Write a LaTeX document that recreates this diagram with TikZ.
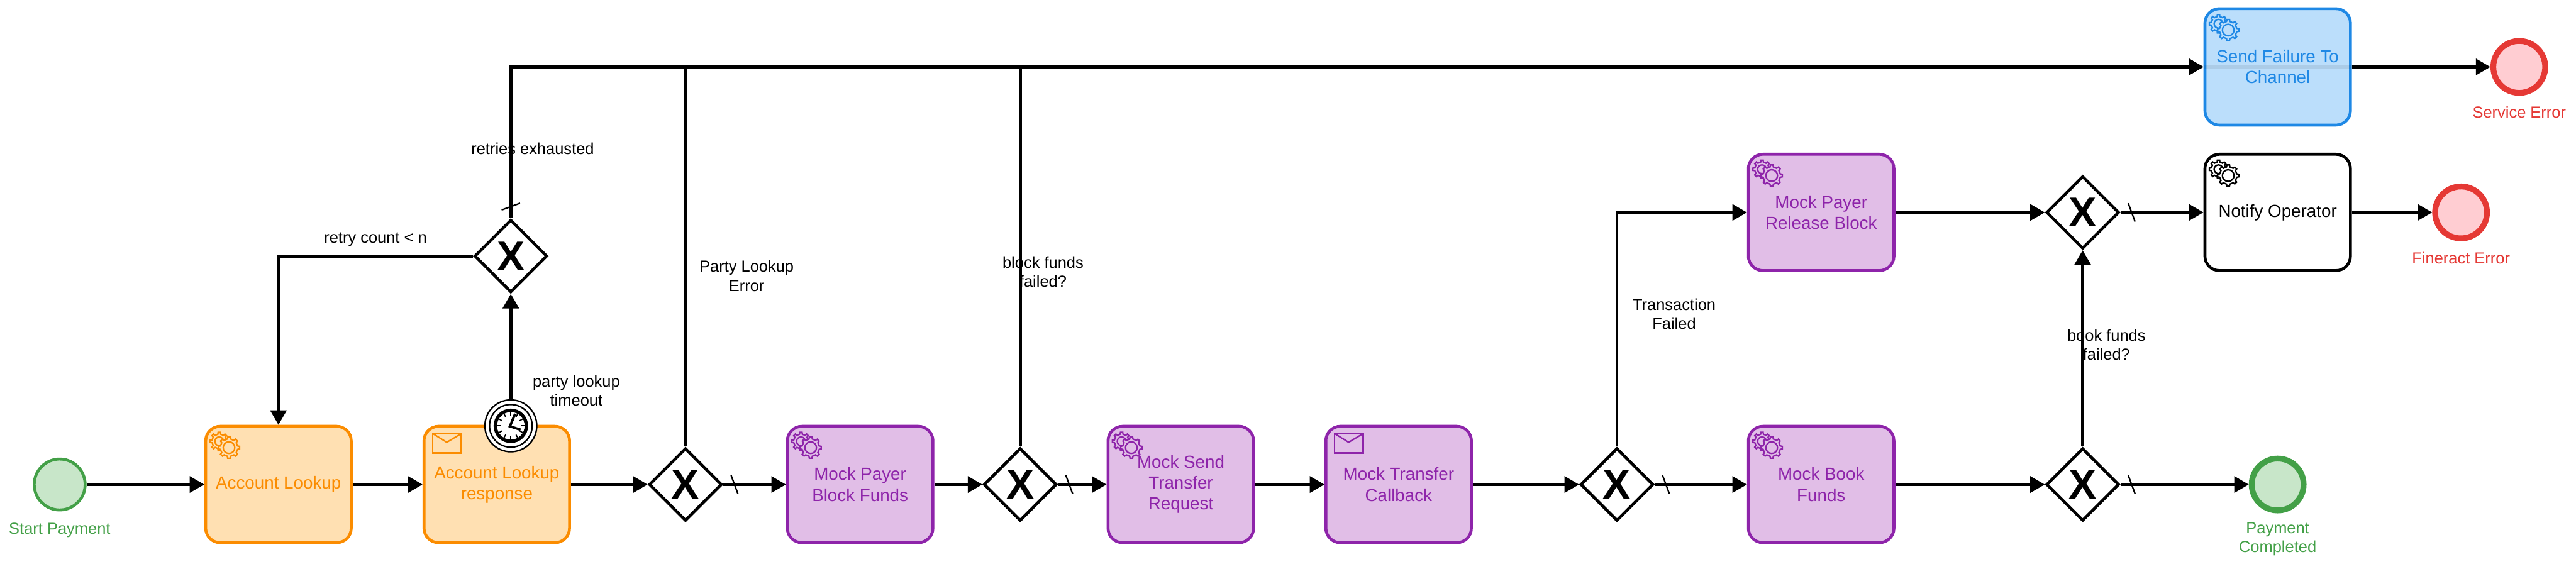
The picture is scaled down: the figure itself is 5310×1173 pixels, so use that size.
\documentclass[tikz,border=0pt]{standalone}
\usepackage{fontspec}
\setmainfont{Liberation Sans}
\usetikzlibrary{arrows.meta,shapes.geometric}
\definecolor{gS}{HTML}{43A047}\definecolor{gF}{HTML}{C8E6C9}
\definecolor{rS}{HTML}{E53935}\definecolor{rF}{HTML}{FFCDD2}
\definecolor{oS}{HTML}{FB8C00}\definecolor{oF}{HTML}{FFE0B2}
\definecolor{pS}{HTML}{8E24AA}\definecolor{pF}{HTML}{E1BEE7}
\definecolor{bS}{HTML}{1E88E5}\definecolor{bF}{HTML}{BBDEFB}
\tikzset{
  task/.style={rectangle,rounded corners=30pt,minimum width=300pt,minimum height=240pt,inner sep=0pt,
    line width=6pt,align=center,font=\fontsize{36}{43}\selectfont},
  otask/.style={task,draw=oS,fill=oF,text=oS},
  ptask/.style={task,draw=pS,fill=pF,text=pS},
  btask/.style={task,draw=bS,fill=bF,text=bS},
  ktask/.style={task,draw=black,fill=white,text=black},
  gateway/.style={diamond,draw=black,fill=white,line width=6pt,minimum size=150pt,inner sep=0pt,
    font=\fontsize{86}{86}\selectfont\bfseries},
  startev/.style={circle,draw=gS,fill=gF,line width=6pt,minimum size=105pt,inner sep=0pt},
  endgood/.style={circle,draw=gS,fill=gF,line width=12pt,minimum size=107pt,inner sep=0pt},
  endbad/.style={circle,draw=rS,fill=rF,line width=12pt,minimum size=107pt,inner sep=0pt},
  lab/.style={inner sep=0pt,align=center,font=\fontsize{33}{39}\selectfont},
  flow/.style={line width=6pt,-{Triangle[length=30pt,width=33pt]}},
  slash/.style={line width=3pt},
}
\newcommand{\gearicon}[3]{%
  \begin{scope}[shift={(#1.north west)},line width=3pt,line join=miter]
    \begin{scope}[shift={(31,34)}]
      \draw[#2,fill=#3] (-11:15) \foreach \a in {0,45,...,315}{ -- (\a-11:15) -- (\a-7:19) -- (\a+7:19) -- (\a+11:15)} -- cycle;
      \draw[#2] (0,0) circle (9);
    \end{scope}
    \begin{scope}[shift={(51,47)}]
      \draw[#2,fill=#3] (-11:18) \foreach \a in {0,45,...,315}{ -- (\a-11:18) -- (\a-7:22) -- (\a+7:22) -- (\a+11:18)} -- cycle;
      \draw[#2] (0,0) circle (12);
    \end{scope}
  \end{scope}}
\newcommand{\envelopeicon}[2]{%
  \begin{scope}[shift={(#1.north west)},line width=3pt]
    \draw[#2] (21,18) rectangle (80,58);
    \draw[#2] (21,18) -- (50,36) -- (80,18);
  \end{scope}}
\begin{document}
\begin{tikzpicture}[x=1pt,y=-1pt]
\useasboundingbox (0,0) rectangle (5310,1173);
\fill[white] (0,0) rectangle (5310,1173);

% events
\node[startev] (start) at (123,999) {};
\node[endgood] (pay) at (4695,999) {};
\node[endbad] (serr) at (5193,138) {};
\node[endbad] (ferr) at (5073,438) {};

% tasks
\node[otask] (a) at (574,999) {Account Lookup};
\node[otask] (b) at (1024,999) {Account Lookup\\response};
\node[ptask] (c) at (1773,999) {Mock Payer\\Block Funds};
\node[ptask] (d) at (2434,999) {Mock Send\\Transfer\\Request};
\node[ptask] (e) at (2883,999) {Mock Transfer\\Callback};
\node[ptask] (f) at (3754,999) {Mock Book\\Funds};
\node[ptask] (rel) at (3754,438) {Mock Payer\\Release Block};
\node[btask] (send) at (4695,138) {Send Failure To\\Channel};
\node[ktask] (notify) at (4695,438) {Notify Operator};
\draw[line width=6pt,black,opacity=.08] (send.west) -- (send.east);

% gateways
\node[gateway] (gr) at (1053,528) {X};
\node[gateway] (g1) at (1413,999) {X};
\node[gateway] (g2) at (2103,999) {X};
\node[gateway] (g3) at (3333,999) {X};
\node[gateway] (g5) at (4293,999) {X};
\node[gateway] (g4) at (4293,438) {X};

% timer boundary event
\node[circle,draw=black,fill=white,line width=3pt,minimum size=107pt,inner sep=0pt] (timer) at (1053,878) {};
\draw[line width=3pt] (timer.center) circle (44);
\draw[line width=7pt] (timer.center) circle (32);
\foreach \a in {0,30,...,330}{\draw[line width=2.5pt] ([shift={(\a:21)}]timer.center) -- ([shift={(\a:31)}]timer.center);}
\draw[line width=5pt,line join=miter] ([shift={(9,-25)}]timer.center) -- ([shift={(-2,1)}]timer.center) -- ([shift={(20,8)}]timer.center);

% connectors
\draw[flow] (start) -- (a);
\draw[flow] (a) -- (b);
\draw[flow] (b) -- (g1);
\draw[flow] (g1) -- (c);
\draw[flow] (c) -- (g2);
\draw[flow] (g2) -- (d);
\draw[flow] (d) -- (e);
\draw[flow] (e) -- (g3);
\draw[flow] (g3) -- (f);
\draw[flow] (f) -- (g5);
\draw[flow] (g5) -- (pay);
\draw[flow] (g5) -- (g4);
\draw[flow] (g4) -- (notify);
\draw[flow] (rel) -- (g4);
\draw[flow] (notify) -- (ferr);
\draw[flow] (send) -- (serr);
\draw[flow] (g3.north) |- (rel.west);
\draw[flow] (timer.north) -- (gr.south);
\draw[flow] (gr.west) -| (a.north);
\draw[flow] (gr.north) |- (send.west);
\draw[flow] (g1.north) |- (send.west);
\draw[flow] (g2.north) |- (send.west);

% default-flow slashes
\foreach \g in {g1,g2,g3,g4,g5}{
  \draw[slash] ([shift={(16,-19)}]\g.east) -- ([shift={(30,19)}]\g.east);
}
\draw[slash] ([shift={(-19,-17)}]gr.north) -- ([shift={(19,-31)}]gr.north);

% icons
\gearicon{a}{oS}{oF}
\gearicon{c}{pS}{pF}
\gearicon{d}{pS}{pF}
\gearicon{f}{pS}{pF}
\gearicon{rel}{pS}{pF}
\gearicon{send}{bS}{bF}
\gearicon{notify}{black}{white}
\envelopeicon{b}{oS}
\envelopeicon{e}{pS}

% labels
\node[lab,text=gS] (lstart) at (123,1093) {Start Payment};
\node[lab,text=gS] (lpay) at (4695,1112) {Payment\\Completed};
\node[lab,text=rS] (lserr) at (5193,231) {Service Error};
\node[lab,text=rS] (lferr) at (5073,532) {Fineract Error};
\node[lab] (l1) at (1188,806) {party lookup\\timeout};
\node[lab] (l2) at (1539,569) {Party Lookup\\Error};
\node[lab] (l3) at (2150,560) {block funds\\failed?};
\node[lab] (l4) at (3451,647) {Transaction\\Failed};
\node[lab] (l5) at (4342,711) {book funds\\failed?};
\node[lab] (l6) at (1098,307) {retries exhausted};
\node[lab] (l7) at (774,494) {retry count < n};
\end{tikzpicture}
\end{document}
